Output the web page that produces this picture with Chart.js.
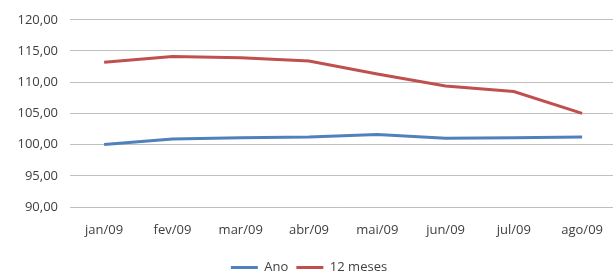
<!DOCTYPE html>
<html>
<head>
<meta charset="utf-8">
<script src="https://cdn.jsdelivr.net/npm/chart.js@4/dist/chart.umd.min.js"></script>
<style>
  html, body { margin: 0; padding: 0; background: #fff; overflow: hidden; }
  #wrap { width: 618px; height: 278px; }
</style>
</head>
<body>
<div id="wrap"><canvas id="chart"></canvas></div>
<script>
const months = ['jan/09', 'fev/09', 'mar/09', 'abr/09', 'mai/09', 'jun/09', 'jul/09', 'ago/09'];
const ano = [100.0, 100.9, 101.1, 101.2, 101.6, 101.0, 101.1, 101.2];
const dozeMeses = [113.2, 114.1, 113.9, 113.4, 111.3, 109.4, 108.5, 105.0];
const yMin = 90;
const yMax = 120;
const yStep = 5;

const fontFamily = '"Open Sans", "Liberation Sans", sans-serif';
const textColor = '#404040';

const ctx = document.getElementById('chart').getContext('2d');
new Chart(ctx, {
    type: 'line',
    data: {
        labels: months,
        datasets: [{
            label: 'Ano',
            data: ano,
            borderColor: '#4F81BD',
            backgroundColor: '#4F81BD',
            borderWidth: 3,
            pointRadius: 0,
            tension: 0
        }, {
            label: '12 meses',
            data: dozeMeses,
            borderColor: '#C0504D',
            backgroundColor: '#C0504D',
            borderWidth: 3,
            pointRadius: 0,
            tension: 0
        }]
    },
    options: {
        responsive: true,
        maintainAspectRatio: false,
        animation: false,
        layout: { padding: { top: 14, left: 0, right: 0, bottom: -6 } },
        plugins: {
            legend: {
                position: 'bottom',
                labels: {
                    usePointStyle: true,
                    pointStyle: 'line',
                    pointStyleWidth: 27,
                    padding: 8,
                    color: textColor,
                    font: { family: fontFamily, size: 13 }
                }
            },
            tooltip: { enabled: false }
        },
        scales: {
            x: {
                offset: true,
                afterFit: (scale) => { scale.height = 46; },
                grid: { display: false, drawTicks: false },
                border: { display: true, color: '#bfbfbf' },
                ticks: {
                    color: textColor,
                    padding: 15,
                    maxRotation: 0,
                    font: { family: fontFamily, size: 13 }
                }
            },
            y: {
                min: yMin,
                max: yMax,
                afterFit: (scale) => { scale.width = 70; },
                grid: { color: '#c0c0c0', drawTicks: false },
                border: { display: false },
                ticks: {
                    stepSize: yStep,
                    padding: 12,
                    color: textColor,
                    font: { family: fontFamily, size: 13 },
                    callback: (v) => v.toFixed(2).replace('.', ',')
                }
            }
        }
    }
});
</script>
</body>
</html>
